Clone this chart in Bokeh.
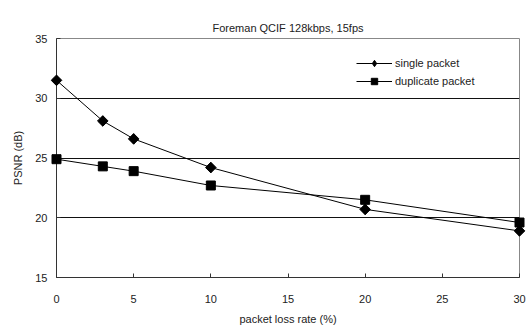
import math
from bokeh.plotting import figure
from bokeh.models import Range1d, FixedTicker, Legend, LegendItem, Title
from bokeh.embed import file_html
from bokeh.resources import INLINE

loss_rate = [0, 3, 5, 10, 20, 30]
single_packet = [31.5, 28.1, 26.6, 24.2, 20.7, 18.9]
duplicate_packet = [24.9, 24.3, 23.9, 22.7, 21.5, 19.6]
x_ticks = [0, 5, 10, 15, 20, 25, 30]
y_ticks = [15, 20, 25, 30, 35]

FONT = "Liberation Sans"

p = figure(width=532, height=327, output_backend="svg", toolbar_location=None,
           x_range=Range1d(0, 30), y_range=Range1d(15, 35),
           min_border_left=56, min_border_right=13, min_border_top=38, min_border_bottom=50)
p.title = None
t = Title(text="Foreman QCIF 128kbps, 15fps", align="center", offset=-16,
          text_font=FONT, text_font_size="11px", text_font_style="normal", text_color="#222222")
p.add_layout(t, "above")

p.background_fill_color = "white"
p.border_fill_color = "white"
p.outline_line_color = "#888888"
p.outline_line_width = 1

p.xgrid.grid_line_color = None
p.ygrid.ticker = FixedTicker(ticks=[20, 25, 30])
p.ygrid.grid_line_color = "#111111"
p.ygrid.grid_line_width = 1

for ax in (p.xaxis[0], p.yaxis[0]):
    ax.major_tick_in = 4
    ax.major_tick_out = 0
    ax.minor_tick_line_color = None
    ax.major_label_text_font = FONT
    ax.major_label_text_font_size = "11px"
    ax.major_label_text_color = "#222222"
    ax.axis_label_text_font = FONT
    ax.axis_label_text_font_size = "11px"
    ax.axis_label_text_font_style = "normal"
    ax.axis_label_text_color = "#222222"
    ax.axis_line_color = "#333333"
    ax.major_tick_line_color = "#333333"

p.xaxis.ticker = FixedTicker(ticks=x_ticks)
p.yaxis.ticker = FixedTicker(ticks=y_ticks)
p.xaxis.axis_label = "packet loss rate (%)"
p.yaxis.axis_label = "PSNR (dB)"
p.xaxis.major_label_standoff = 17
p.yaxis.major_label_standoff = 9
p.xaxis.axis_label_standoff = 7
p.yaxis.axis_label_standoff = 8

l1 = p.line(loss_rate, single_packet, line_color="black", line_width=1)
# diamond glyph used for the legend key; it lies hidden under the rotated squares below
key1 = p.scatter(loss_rate, single_packet, marker="diamond", size=10,
                 fill_color="black", line_color="black")
m1 = p.scatter(loss_rate, single_packet, marker="square", angle=math.pi / 4, size=7.5,
               fill_color="black", line_color="black", level="overlay")
l2 = p.line(loss_rate, duplicate_packet, line_color="black", line_width=1)
m2 = p.scatter(loss_rate, duplicate_packet, marker="square", size=9,
               fill_color="black", line_color="black", level="overlay")

legend = Legend(items=[LegendItem(label="single packet", renderers=[l1, key1]),
                       LegendItem(label="duplicate packet", renderers=[l2, m2])],
                location=(300, 188), border_line_color=None, background_fill_alpha=0,
                padding=0, margin=0, spacing=2, glyph_width=36, glyph_height=16,
                label_height=16, label_standoff=3,
                label_text_font=FONT, label_text_font_size="11px", label_text_color="#222222")
p.add_layout(legend, "center")

open("out.html", "w").write(file_html(p, INLINE))
